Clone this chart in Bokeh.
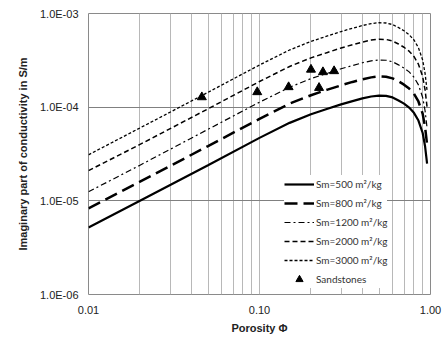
from bokeh.plotting import figure
from bokeh.models import (FixedTicker, CustomJSTickFormatter, Legend, LegendItem,
                          Range1d)
from bokeh.embed import file_html
from bokeh.resources import INLINE

phi = [0.01, 0.02, 0.05, 0.1, 0.15, 0.2, 0.25, 0.3, 0.35, 0.4, 0.45, 0.5, 0.55,
       0.6, 0.65, 0.7, 0.75, 0.8, 0.85, 0.9, 0.93, 0.955]

s500 = [5.2e-6, 1.0e-5, 2.4e-5, 4.7e-5, 6.8e-5, 8.4e-5, 9.6e-5, 1.07e-4, 1.16e-4,
        1.24e-4, 1.30e-4, 1.33e-4, 1.32e-4, 1.27e-4, 1.18e-4, 1.09e-4, 9.9e-5,
        8.7e-5, 7.2e-5, 5.3e-5, 3.8e-5, 2.5e-5]
s800 = [8.3e-6, 1.6e-5, 3.84e-5, 7.5e-5, 1.09e-4, 1.34e-4, 1.54e-4, 1.71e-4, 1.86e-4,
        1.98e-4, 2.08e-4, 2.13e-4, 2.11e-4, 2.03e-4, 1.89e-4, 1.74e-4, 1.58e-4,
        1.39e-4, 1.15e-4, 8.5e-5, 6.1e-5, 4.0e-5]
s1200 = [1.25e-5, 2.4e-5, 5.8e-5, 1.13e-4, 1.63e-4, 2.02e-4, 2.30e-4, 2.57e-4, 2.78e-4,
         2.98e-4, 3.12e-4, 3.19e-4, 3.17e-4, 3.05e-4, 2.83e-4, 2.62e-4, 2.38e-4,
         2.09e-4, 1.73e-4, 1.27e-4, 9.1e-5, 6.0e-5]
s2000 = [2.1e-5, 4.0e-5, 9.6e-5, 1.88e-4, 2.72e-4, 3.36e-4, 3.84e-4, 4.28e-4, 4.64e-4,
         4.96e-4, 5.2e-4, 5.32e-4, 5.28e-4, 5.08e-4, 4.72e-4, 4.36e-4, 3.96e-4,
         3.48e-4, 2.88e-4, 2.12e-4, 1.52e-4, 1.0e-4]
s3000 = [3.1e-5, 6.0e-5, 1.44e-4, 2.82e-4, 4.08e-4, 5.04e-4, 5.76e-4, 6.42e-4, 6.96e-4,
         7.44e-4, 7.8e-4, 7.98e-4, 7.92e-4, 7.62e-4, 7.08e-4, 6.54e-4, 5.94e-4,
         5.22e-4, 4.32e-4, 3.18e-4, 2.28e-4, 1.5e-4]

# Sandstone measurements
phi_sand = [0.046, 0.097, 0.148, 0.200, 0.223, 0.235, 0.273]
sig_sand = [1.28e-4, 1.45e-4, 1.64e-4, 2.52e-4, 1.61e-4, 2.37e-4, 2.43e-4]

labels = ["Sm=500 m\u00b2/kg", "Sm=800 m\u00b2/kg", "Sm=1200 m\u00b2/kg",
          "Sm=2000 m\u00b2/kg", "Sm=3000 m\u00b2/kg", "Sandstones"]

x_major = [0.01, 0.1, 1.0]
y_major = [1e-6, 1e-5, 1e-4, 1e-3]
x_grid = [0.02, 0.03, 0.04, 0.05, 0.06, 0.07, 0.08, 0.09, 0.1,
          0.2, 0.3, 0.4, 0.5, 0.6, 0.7, 0.8, 0.9]
y_grid = [1e-5, 1e-4]

p = figure(width=443, height=341, x_axis_type="log", y_axis_type="log",
           output_backend="svg", toolbar_location=None,
           x_range=Range1d(0.01, 1.0), y_range=Range1d(1e-6, 1e-3),
           min_border_left=88, min_border_right=13, min_border_top=13,
           min_border_bottom=47)
p.background_fill_color = "white"
p.border_fill_color = "white"
p.outline_line_color = "#8a8a8a"
p.outline_line_width = 1

# grids
p.xgrid.ticker = FixedTicker(ticks=x_grid)
p.xgrid.grid_line_color = "#b8b8b8"
p.xgrid.grid_line_width = 1
p.ygrid.ticker = FixedTicker(ticks=y_grid)
p.ygrid.grid_line_color = "#808080"
p.ygrid.grid_line_width = 1

# axes
p.xaxis.ticker = FixedTicker(ticks=x_major, minor_ticks=[])
p.yaxis.ticker = FixedTicker(ticks=y_major, minor_ticks=[])
p.xaxis.formatter = CustomJSTickFormatter(code="return tick.toFixed(2);")
p.yaxis.formatter = CustomJSTickFormatter(code="""
const e = Math.round(Math.log10(tick));
return '1.0E-' + String(-e).padStart(2, '0');
""")
for ax in (p.xaxis, p.yaxis):
    ax.axis_line_color = None
    ax.major_tick_line_color = None
    ax.minor_tick_line_color = None
    ax.major_tick_out = 0
    ax.major_tick_in = 0
    ax.major_label_text_font = "Liberation Sans"
    ax.major_label_text_font_size = "11px"
    ax.major_label_text_color = "#222222"
    ax.axis_label_text_font = "Liberation Sans"
    ax.axis_label_text_font_size = "11px"
    ax.axis_label_text_font_style = "bold"
    ax.axis_label_text_color = "#222222"

p.xaxis.axis_label = "Porosity \u03a6"
p.yaxis.axis_label = "Imaginary part of conductivity in S/m"
p.xaxis.major_label_standoff = 11
p.xaxis.axis_label_standoff = 5
p.yaxis.major_label_standoff = 10
p.yaxis.axis_label_standoff = 8

r1 = p.line(phi, s500, line_color="black", line_width=2.2)
r2 = p.line(phi, s800, line_color="black", line_width=2.5, line_dash="13 6")
r3 = p.line(phi, s1200, line_color="black", line_width=1.2, line_dash="6 3 2 3")
r4 = p.line(phi, s2000, line_color="black", line_width=1.5, line_dash="5 3")
r5 = p.line(phi, s3000, line_color="black", line_width=1.3, line_dash="3 2")
r6 = p.scatter(phi_sand, sig_sand, marker="triangle", size=9,
               fill_color="black", line_color="black")

items = [LegendItem(label=l, renderers=[r]) for l, r in
         zip(labels, [r1, r2, r3, r4, r5, r6])]
legend = Legend(items=items, location=(196, 6))
legend.background_fill_color = "white"
legend.background_fill_alpha = 1.0
legend.border_line_color = None
legend.label_text_font = "Lato"
legend.label_text_font_size = "10px"
legend.label_text_color = "#333333"
legend.glyph_width = 30
legend.glyph_height = 18
legend.label_height = 18
legend.label_standoff = 2
legend.spacing = 1
legend.padding = 4
legend.margin = 0
p.add_layout(legend)

open("out.html", "w").write(file_html(p, INLINE))
